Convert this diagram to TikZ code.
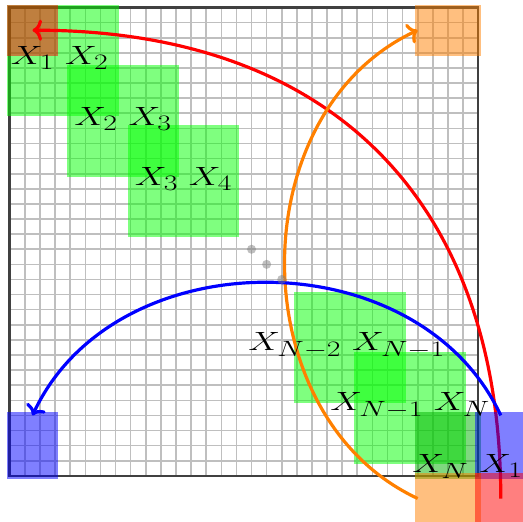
\documentclass[tikz,border=0pt]{standalone}
\usetikzlibrary{arrows.meta}
\DeclareMathSizes{24.88}{24.88}{22}{17}
\newcommand{\wide}[1]{\scalebox{1.35}[1]{#1}}

\begin{document}
\begin{tikzpicture}[x=0.5cm, y=0.5cm,
    blk/.style={fill=#1, opacity=0.5},
    wrap/.style={draw=#1, line width=3pt, -{To[length=9pt,width=20pt]}},
    lbl/.style={font=\Huge}]
  \useasboundingbox (-0.65,-3.05) rectangle (33.97,31.5);
  \draw[gray!50, line width=1.5pt, step=0.5cm] (0,0) grid (31,31);
  \draw[black!75, line width=2.5pt] (0,0) rectangle (31,31);
  % overlapping blocks along the diagonal
  \foreach \s in {0,4,8,19,23}
    \fill[blk=green] (\s-0.2,31.2-\s) rectangle (\s+7.2,23.8-\s);
  \fill[blk=green!70!black] (26.8,4.2) rectangle (31.2,-0.2);
  % images of the wrapped part
  \fill[blk=red] (-0.2,31.2) rectangle (3.2,27.8);
  \fill[blk=orange] (26.8,31.2) rectangle (31.2,27.8);
  \fill[blk=blue] (-0.2,4.2) rectangle (3.2,-0.2);
  \coordinate (rfrom) at (32.5,-1.5);
  \coordinate (rto) at (1.5,29.5);
  \coordinate (ofrom) at (27,-1.5);
  \coordinate (oto) at (27,29.5);
  \coordinate (bfrom) at (32.5,4);
  \coordinate (bto) at (1.5,4);
  \draw[wrap=red] (rfrom) to[out=90, in=0, looseness=1.15] (rto);
  \draw[wrap=orange] (ofrom) to[out=155, in=205, looseness=1.07] (oto);
  \draw[wrap=blue] (bfrom) to[out=115, in=65, looseness=1.07] (bto);
  % part of the last block outside the box
  \fill[blk=blue] (30.8,4.2) rectangle (34.2,-0.2);
  \fill[blk=orange] (26.8,0.2) rectangle (31.2,-3.2);
  \fill[blk=red] (30.8,0.2) rectangle (34.2,-3.2);
  \foreach \d in {16,17,18}
    \fill[gray, opacity=0.5] (\d,31-\d) circle (0.3);
  \node[lbl] (x12) at (3.3,27.65) {\wide{$X_1$ $X_2$}};
  \node[lbl] (x23) at (7.5,23.65) {\wide{$X_2$ $X_3$}};
  \node[lbl] (x34) at (11.5,19.65) {\wide{$X_3$ $X_4$}};
  \node[lbl] (xn2) at (22.3,8.65) {\wide{$X_{N-2}$ $X_{N-1}$}};
  \node[lbl] (xn1) at (26.5,4.65) {\wide{$X_{N-1}$ $X_N$}};
  \node[lbl] (xn) at (30.3,0.65) {\wide{$X_N$ $X_1$}};
\end{tikzpicture}
\end{document}
